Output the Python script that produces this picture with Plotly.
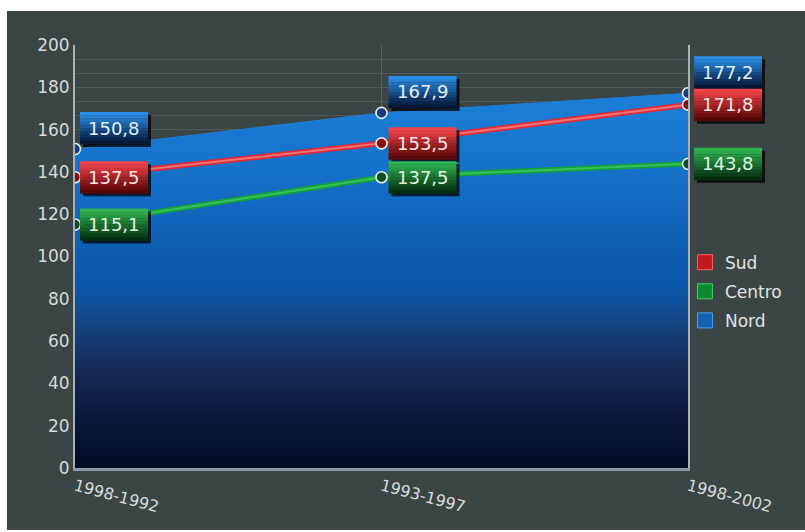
import plotly.graph_objects as go

categories = ["1998-1992", "1993-1997", "1998-2002"]
nord = [150.8, 167.9, 177.2]
sud = [137.5, 153.5, 171.8]
centro = [115.1, 137.5, 143.8]
y_ticks = [0, 20, 40, 60, 80, 100, 120, 140, 160, 180, 200]

x = list(range(len(categories)))
xmax = len(categories) - 1

BG = "#3c4545"
FONT = "DejaVu Sans, Liberation Sans, Arial, sans-serif"

fig = go.Figure()

# Nord area with vertical gradient
fig.add_trace(go.Scatter(
    x=x, y=nord, mode="lines", fill="tozeroy",
    line=dict(color="#1c7fd6", width=1),
    fillgradient=dict(type="vertical", start=0, stop=max(nord),
                      colorscale=[[0, "#010a22"], [0.15, "#0c1a3e"], [0.26, "#142a55"],
                                  [0.37, "#15417c"], [0.47, "#0c55a6"], [0.58, "#0e5db2"],
                                  [0.78, "#1570c8"], [1, "#1b80d8"]]),
    showlegend=False, hoverinfo="skip"))

# Centro line
fig.add_trace(go.Scatter(x=x, y=centro, mode="lines", line=dict(color="#14a03e", width=5.5),
                         showlegend=False))
fig.add_trace(go.Scatter(x=x, y=centro, mode="lines", line=dict(color="#38c05c", width=2),
                         showlegend=False))
# Sud line
fig.add_trace(go.Scatter(x=x, y=sud, mode="lines", line=dict(color="#de2c36", width=5.5),
                         showlegend=False))
fig.add_trace(go.Scatter(x=x, y=sud, mode="lines", line=dict(color="#f47078", width=2),
                         showlegend=False))

# markers
for vals, fillc in [(nord, "#1a3a80"), (sud, "#8a1010"), (centro, "#0a5020")]:
    fig.add_trace(go.Scatter(x=x, y=vals, mode="markers",
                             marker=dict(size=11, color=fillc, line=dict(color="#e8eef0", width=1.6)),
                             showlegend=False))

# legend entries
for name, col, edge in [("Sud", "#c41820", "#ff6060"), ("Centro", "#0c8a30", "#40d070"),
                        ("Nord", "#1460b0", "#4aa0f0")]:
    fig.add_trace(go.Scatter(x=[None], y=[None], mode="markers", name=name, legendgroup=name,
                             marker=dict(symbol="square", size=15, color=col,
                                         line=dict(color=edge, width=1))))

def hexmix(c1, c2, t):
    a = [int(c1[i:i + 2], 16) for i in (1, 3, 5)]
    b = [int(c2[i:i + 2], 16) for i in (1, 3, 5)]
    return "#" + "".join("%02x" % round(a[k] + (b[k] - a[k]) * t) for k in range(3))

shapes = []
annotations = []
# background panel with white border
shapes.append(dict(type="rect", xref="paper", yref="paper", x0=-0.111, x1=1.2,
                   y0=-0.1466, y1=1.0804, fillcolor=BG, line=dict(width=0), layer="below"))

series_labels = [
    (nord, "#2a8ee6", "#061838", "#e4eefa", True),
    (sud, "#f4444a", "#5a0606", "#ffe6e6", False),
    (centro, "#30b452", "#05300f", "#e0f4e0", False),
]
x_off = [5, 7, 6]
for vals, ctop, cbot, tcol, above in series_labels:
    for i, v in enumerate(vals):
        xp = x[i] / xmax
        x0 = x_off[i]
        x1 = x0 + 68
        if above:
            yb, yt = 5, 37
        else:
            yb, yt = -16, 16
        # shadow
        shapes.append(dict(type="rect", xref="paper", yref="y", xsizemode="pixel", ysizemode="pixel",
                           xanchor=xp, yanchor=v, x0=x0 + 3, x1=x1 + 3, y0=yb - 3, y1=yt - 3,
                           fillcolor="rgba(0,0,0,0.75)", line=dict(width=0)))
        n = 10
        h = (yt - yb) / n
        for k in range(n):
            t = k / (n - 1)
            col = hexmix(ctop, cbot, t)
            shapes.append(dict(type="rect", xref="paper", yref="y", xsizemode="pixel", ysizemode="pixel",
                               xanchor=xp, yanchor=v, x0=x0, x1=x1,
                               y0=yt - (k + 1) * h - 0.3, y1=yt - k * h,
                               fillcolor=col, line=dict(width=0)))
        annotations.append(dict(x=x[i], y=v, xref="x", yref="y", text=f"{v:.1f}".replace(".", ","),
                                showarrow=False, xshift=(x0 + x1) / 2, yshift=(yb + yt) / 2,
                                font=dict(size=18, color=tcol, family=FONT)))

fig.update_layout(
    width=805, height=532,
    margin=dict(l=75, r=117, t=45, b=64),
    paper_bgcolor="white", plot_bgcolor=BG,
    font=dict(family=FONT, color="#d6dada", size=16),
    shapes=shapes, annotations=annotations,
    legend=dict(x=0.995, y=0.528, xanchor="left", yanchor="top", bgcolor="rgba(0,0,0,0)",
                font=dict(size=17, color="#e0e4e4"), tracegroupgap=4, itemsizing="trace"),
    xaxis=dict(range=[0, xmax], tickvals=x, ticktext=categories, tickangle=15,
               showgrid=True, gridcolor="#566060", gridwidth=1, zeroline=False,
               showline=True, linecolor="#8a98aa", linewidth=3,
               tickfont=dict(size=16, color="#d6dada"), ticks=""),
    yaxis=dict(range=[0, 200], tickvals=y_ticks, showgrid=True, gridcolor="#4f5959", gridwidth=1,
               minor=dict(dtick=20 / 3, tick0=0, showgrid=True, gridcolor="#4f5959", gridwidth=1),
               zeroline=False, showline=True, mirror=True, linecolor="#a8b0b8", linewidth=2,
               tickfont=dict(size=17, color="#d6dada"), ticks="", ticklabelstandoff=0),
)

fig.write_html("out.html")
